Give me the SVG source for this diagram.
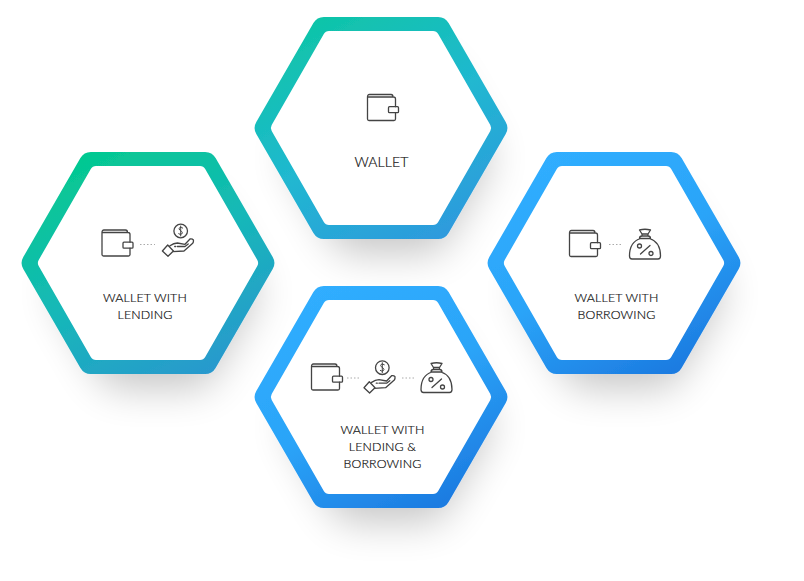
<svg xmlns="http://www.w3.org/2000/svg" width="804" height="581" viewBox="0 0 804 581">
<style>
text{font-family:Lato,"Open Sans","Liberation Sans",sans-serif;font-size:12.4px;font-weight:300;fill:#111;stroke:#111;stroke-width:.2px;text-anchor:middle;letter-spacing:.15px}
.big{font-size:14px}
.i{fill:none;stroke:#444;stroke-width:1.3;stroke-linejoin:round;stroke-linecap:round}
.d{fill:none;stroke:#aaa;stroke-width:1;stroke-dasharray:1.5 2}
</style>
<defs>
<linearGradient id="g1" x1=".2" y1="0" x2=".8" y2="1"><stop offset="0" stop-color="#0ec5a6"/><stop offset=".5" stop-color="#20b8d0"/><stop offset="1" stop-color="#2f98de"/></linearGradient>
<linearGradient id="g2" x1=".2" y1="0" x2=".8" y2="1"><stop offset="0" stop-color="#03ca8e"/><stop offset=".5" stop-color="#16b8b8"/><stop offset="1" stop-color="#2a97cf"/></linearGradient>
<linearGradient id="g3" x1=".2" y1="0" x2=".8" y2="1"><stop offset="0" stop-color="#30aeff"/><stop offset=".5" stop-color="#2ba4f8"/><stop offset="1" stop-color="#1b78df"/></linearGradient>
<filter id="s" x="-40%" y="-40%" width="180%" height="190%"><feMorphology in="SourceAlpha" operator="erode" radius="16"/><feGaussianBlur stdDeviation="20"/><feOffset dx="9" dy="30"/><feComponentTransfer><feFuncA type="linear" slope=".23"/></feComponentTransfer><feMerge><feMergeNode/><feMergeNode in="SourceGraphic"/></feMerge></filter>
<path id="o" d="M-57.2-111H57.2Q64.1-111 67.6-105L124.7-6Q128.2 0 124.7 6L67.6 105Q64.1 111 57.2 111H-57.2Q-64.1 111-67.6 105L-124.7 6Q-128.2 0-124.7-6L-67.6-105Q-64.1-111-57.2-111Z"/>
<path id="n" d="M-52-97H52Q55.500-97 57.200-94L109.300-3Q111 0 109.300 3L57.200 94Q55.500 97 52 97H-52Q-55.500 97-57.200 94L-109.300 3Q-111 0-109.300-3L-57.200-94Q-55.500-97-52-97Z"/>
<g id="wallet" class="i"><path d="M.5 3V25Q.5 26.5 2 26.5H27Q28.5 26.5 28.5 25V18.7M28.5 12.7V5Q28.5 3 26.5 3H.5M.5 3Q.5.5 2.5.5H24Q26 .5 26 3"/><rect x="21.5" y="12.7" width="10" height="6" rx="1"/></g>
<g id="hand" class="i"><circle cx="0" cy="0" r="6.8"/><path d="M-18.3 20-13 14-7.3 20-12.7 25.3ZM-10.7 14.7Q-7 12-3.3 12L4.3 13.3 9.3 8Q11.500 7.500 12.700 9 13 11 12 12.300L3.300 20-8 20.700M-3.300 15.500H4.300L7.500 13M-6 15.500H-5"/><path d="M2-3Q.5-4-1-3.4-2.3-2.3-1-1L1 .5Q2.3 1.8 1 3-.7 3.8-2 2.8M0-5V5" stroke-width="1"/></g>
<g id="bag" class="i"><path d="M-13 31Q-15.500 31-15.500 28C-15.500 18-11 12.500-4.500 10.500H4.500C11 12.500 15.500 18 15.500 28Q15.500 31 13 31ZM-5.500 10.500Q-5.500 8 -3 8H3Q5.500 8 5.500 10.500M-3 8V6H3V8M-3 6-5.500 2Q0 .5 5.500 2L3 6"/><circle cx="-5.500" cy="18" r="2"/><circle cx="6" cy="25.500" r="2"/><path d="M-4.500 26 5 17.500"/></g>
</defs>
<g id="connectors"/>
<g id="node-wallet">
<use href="#o" x="381" y="128" fill="url(#g1)" filter="url(#s)"/>
<use href="#n" x="381" y="128" fill="#fff"/>
<use href="#wallet" x="367" y="94"/>
<text class="big" x="381.500" y="167">WALLET</text>
</g>
<g id="node-lending">
<use href="#o" x="148" y="263" fill="url(#g2)" filter="url(#s)"/>
<use href="#n" x="148" y="263" fill="#fff"/>
<use href="#wallet" x="101.500" y="229.500"/>
<path class="d" d="M140 244.500H155"/>
<use href="#hand" x="180.700" y="231"/>
<text x="145" y="302">WALLET WITH</text>
<text x="145" y="319">LENDING</text>
</g>
<g id="node-borrowing">
<use href="#o" x="614" y="263" fill="url(#g3)" filter="url(#s)"/>
<use href="#n" x="614" y="263" fill="#fff"/>
<use href="#wallet" x="569" y="230"/>
<path class="d" d="M609 244.500H623"/>
<use href="#bag" x="645" y="228"/>
<text x="616.500" y="302">WALLET WITH</text>
<text x="616.500" y="319">BORROWING</text>
</g>
<g id="node-both">
<use href="#o" x="381" y="397" fill="url(#g3)" filter="url(#s)"/>
<use href="#n" x="381" y="397" fill="#fff"/>
<use href="#wallet" x="311" y="363.500"/>
<path class="d" d="M347 378H361M402 378H416"/>
<use href="#hand" x="382.300" y="367.700"/>
<use href="#bag" x="436.500" y="361.500"/>
<text x="382.500" y="434">WALLET WITH</text>
<text x="382.500" y="451">LENDING &amp;</text>
<text x="382.500" y="468">BORROWING</text>
</g>
</svg>
